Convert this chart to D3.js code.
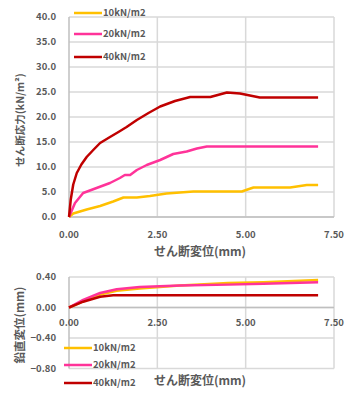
<!DOCTYPE html>
<html><head><meta charset="utf-8">
<script src="https://cdn.jsdelivr.net/npm/d3@7"></script>
<style>body{margin:0;background:#fff}svg{display:block}text{font-family:"Noto Sans CJK JP",sans-serif;font-weight:bold;fill:#595959}</style>
</head><body><div id="c"></div>
<script>
const seriesNames = ["10kN/m2", "20kN/m2", "40kN/m2"];
const seriesColors = ["#ffc000", "#ff3399", "#c00000"];
// top chart: shear displacement (mm) vs shear stress
const s10x = [0, 0.12, 0.5, 0.88, 1.25, 1.54, 1.92, 2.29, 2.76, 3.14, 3.52, 4.89, 5.22, 6.26, 6.73, 7.05];
const s10y = [0, 0.7, 1.5, 2.2, 3.1, 3.9, 3.9, 4.2, 4.7, 4.9, 5.1, 5.1, 5.9, 5.9, 6.4, 6.4];
const s20x = [0, 0.17, 0.4, 0.78, 1.16, 1.44, 1.58, 1.73, 1.92, 2.2, 2.58, 2.95, 3.33, 3.62, 3.9, 7.05];
const s20y = [0, 2.8, 4.8, 5.8, 6.8, 7.8, 8.4, 8.4, 9.4, 10.4, 11.4, 12.6, 13.1, 13.7, 14.1, 14.1];
const s40x = [0, 0.05, 0.12, 0.22, 0.35, 0.5, 0.7, 0.88, 1.16, 1.4, 1.63, 1.92, 2.25, 2.58, 3.0, 3.43, 4.0, 4.47, 4.84, 5.4, 7.05];
const s40y = [0, 3.5, 6.5, 8.8, 10.5, 12, 13.5, 14.8, 16, 17, 18, 19.4, 20.8, 22.1, 23.2, 24, 24, 24.9, 24.7, 23.9, 23.9];
// bottom chart: shear displacement vs vertical displacement
const v10x = [0, 0.4, 0.88, 1.35, 2.0, 3.14, 4.5, 5.5, 7.05];
const v10y = [0, 0.08, 0.17, 0.22, 0.25, 0.29, 0.32, 0.33, 0.36];
const v20x = [0, 0.4, 0.88, 1.35, 2.0, 3.14, 4.5, 5.5, 7.05];
const v20y = [0, 0.1, 0.19, 0.24, 0.27, 0.29, 0.3, 0.31, 0.33];
const v40x = [0, 0.4, 0.88, 1.25, 7.05];
const v40y = [0, 0.076, 0.14, 0.16, 0.16];
const xTicks = [0, 2.5, 5, 7.5];
const yTicksTop = [0, 5, 10, 15, 20, 25, 30, 35, 40];
const yTicksBot = [0.4, 0, -0.4, -0.8];

const W = 345, H = 394;
const svg = d3.select("#c").append("svg").attr("width", W).attr("height", H);

function chart(opt) {
  const x = d3.scaleLinear().domain([0, 7.5]).range([69, 334]);
  const y = d3.scaleLinear().domain(opt.ydom).range(opt.yrange);
  const g = svg.append("g");
  g.selectAll(".gy").data(opt.yticks).join("line")
    .attr("x1", x(0)).attr("x2", x(7.5)).attr("y1", d => y(d)).attr("y2", d => y(d))
    .attr("stroke", "#d9d9d9").attr("stroke-width", 1.5);
  g.selectAll(".gx").data(xTicks.slice(1)).join("line")
    .attr("x1", d => x(d)).attr("x2", d => x(d)).attr("y1", y(opt.ydom[0])).attr("y2", y(opt.ydom[1]))
    .attr("stroke", "#d9d9d9").attr("stroke-width", 1.5);
  g.append("line").attr("x1", x(0)).attr("x2", x(0)).attr("y1", y(opt.ydom[0])).attr("y2", y(opt.ydom[1])).attr("stroke", "#bfbfbf").attr("stroke-width", 1.5);
  g.append("line").attr("x1", x(0)).attr("x2", x(7.5)).attr("y1", y(0)).attr("y2", y(0)).attr("stroke", "#bfbfbf").attr("stroke-width", 1.5);
  g.selectAll(".ty").data(opt.yticks).join("text")
    .attr("x", 56).attr("y", d => y(d)).attr("dy", "0.35em").attr("text-anchor", "end")
    .attr("font-size", 9.5).text(d => d3.format(opt.yfmt)(d));
  g.selectAll(".tx").data(xTicks).join("text")
    .attr("x", d => x(d)).attr("y", opt.xlabY).attr("dy", "0.35em").attr("text-anchor", "middle")
    .attr("font-size", 9.5).text(d => d3.format(".2f")(d));
  g.append("text").attr("x", 200).attr("y", opt.xtitleY).attr("dy", "0.35em").attr("text-anchor", "middle")
    .attr("font-size", 12).text("せん断変位(mm)");
  g.append("text").attr("transform", `translate(20,${opt.ytitleY}) rotate(-90)`).attr("dy", "0.35em")
    .attr("text-anchor", "middle").attr("font-size", opt.ytitleSize).text(opt.ytitle);
  const line = d3.line().x(d => x(d[0])).y(d => y(d[1]));
  opt.series.forEach((s, i) => {
    g.append("path").datum(d3.zip(s[0], s[1])).attr("d", line).attr("fill", "none")
      .attr("stroke", seriesColors[i]).attr("stroke-width", 2.5).attr("stroke-linejoin", "round");
  });
  opt.legY.forEach((ly, i) => {
    g.append("line").attr("x1", opt.legX).attr("x2", opt.legX + 28).attr("y1", ly).attr("y2", ly)
      .attr("stroke", seriesColors[i]).attr("stroke-width", 2.5);
    g.append("text").attr("x", opt.legX + 29).attr("y", ly).attr("dy", "0.35em")
      .attr("font-size", 9.5).attr("font-weight", "normal").text(seriesNames[i]);
  });
}

chart({
  ydom: [0, 40], yrange: [217, 17], yticks: yTicksTop, yfmt: ".1f",
  xlabY: 235, xtitleY: 252, ytitleY: 120, ytitle: "せん断応力(kN/m²)", ytitleSize: 10.5,
  series: [[s10x, s10y], [s20x, s20y], [s40x, s40y]],
  legX: 74, legY: [13, 34, 57]
});
chart({
  ydom: [-0.8, 0.4], yrange: [368.5, 277], yticks: yTicksBot, yfmt: ".2f",
  xlabY: 323, xtitleY: 381, ytitleY: 325, ytitle: "鉛直変位(mm)", ytitleSize: 11.5,
  series: [[v10x, v10y], [v20x, v20y], [v40x, v40y]],
  legX: 64, legY: [348, 365, 383]
});
</script></body></html>
